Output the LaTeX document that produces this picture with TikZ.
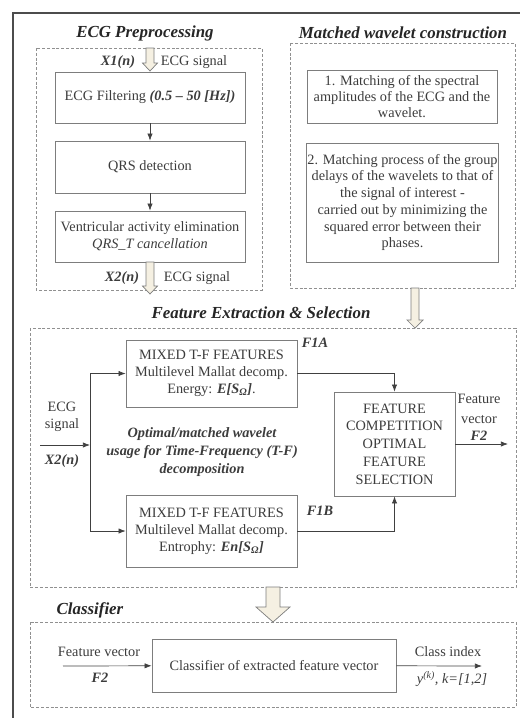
\documentclass[tikz,border=0pt]{standalone}
\usepackage{fontspec}
\setmainfont{Liberation Serif}
\usetikzlibrary{arrows.meta}

\definecolor{txtgray}{RGB}{60,60,60}
\definecolor{linegray}{RGB}{125,125,125}
\definecolor{arrfill}{RGB}{245,240,226}

\tikzset{
	procbox/.style={draw=linegray, line width=0.6pt, align=center, inner sep=1pt, text=txtgray, font=\fontsize{12.2}{14.5}\selectfont},
	grp/.style={draw=linegray!85, dash pattern=on 2.5pt off 1.6pt, line width=0.5pt},
	ttl/.style={font=\fontsize{14.4}{16}\selectfont\bfseries\itshape, text=black!85},
	lbl/.style={text=txtgray, align=center, inner sep=0pt, font=\fontsize{12.2}{16}\selectfont},
	lblbi/.style={lbl, font=\fontsize{12.2}{16}\selectfont\bfseries\itshape},
	conn/.style={draw=black!75, line width=0.6pt, -{Latex[length=6pt,width=4.5pt]}},
	fatarr/.style={draw=linegray, fill=arrfill, line width=0.6pt}
}

% x, top, tip, half shaft, half head, head length
\newcommand{\fatarrow}[6]{%
	\filldraw[fatarr] (#1-#4,#2) -- (#1-#4,#3-#6) -- (#1-#5,#3-#6) -- (#1,#3)
	-- (#1+#5,#3-#6) -- (#1+#4,#3-#6) -- (#1+#4,#2) -- cycle;}

\begin{document}
\begin{tikzpicture}[x=0.03cm, y=-0.03cm]
	\useasboundingbox (0,0) rectangle (519,718);
	\draw[line width=1.4pt, black!70] (13,740) -- (13,13) -- (540,13);
	
	% group frames
	\draw[grp] (36,48) rectangle (262,290);
	\draw[grp] (290,43) rectangle (515,288);
	\draw[grp] (30,328) rectangle (516,587);
	\draw[grp] (30,622) rectangle (516,707);
	
	\node[ttl] (tpre) at (145,33) {ECG Preprocessing};
	\node[ttl] (tmw) at (403,33) {Matched wavelet construction};
	\node[ttl] (tfes) at (261,313) {Feature Extraction \& Selection};
	\node[ttl] (tcls) at (90,610) {Classifier};
	
	% ECG preprocessing
	\fatarrow{150}{48}{71}{4}{7.5}{8}
	\node[lblbi] (xone) at (118,62) {X1(n)};
	\node[lbl] (sone) at (194,62) {ECG signal};
	
	\node[procbox, minimum width=5.7cm, minimum height=1.53cm] (filt) at (150,97.5) {ECG Filtering \textbf{\textit{(0.5 -- 50 [Hz])}}};
	\node[procbox, minimum width=5.7cm, minimum height=1.56cm] (qrs) at (150,167) {QRS detection};
	\node[procbox, minimum width=5.7cm, minimum height=1.53cm] (vae) at (150,236.5) {Ventricular activity elimination\\\textit{QRS\_T cancellation}};
	
	\foreach \a/\b in {filt/qrs, qrs/vae}
	\draw[conn] (\a) -- (\b);
	
	\fatarrow{150}{262}{294}{4}{7.5}{8}
	\node[lblbi] (xtwo) at (122,278) {X2(n)};
	\node[lbl] (stwo) at (197,278) {ECG signal};
	
	% matched wavelet construction
	\node[procbox, minimum width=5.7cm, minimum height=1.59cm, font=\fontsize{12.2}{14}\selectfont] (mone) at (402,96.5) {1. Matching of the spectral\\amplitudes of the ECG and the\\wavelet.};
	\node[procbox, minimum width=5.73cm, minimum height=3.57cm, font=\fontsize{12.2}{14.3}\selectfont] (mtwo) at (402.5,202.5) {2. Matching process of the group\\delays of the wavelets to that of\\the signal of interest -\\carried out by minimizing the\\squared error between their\\phases.};
	
	\fatarrow{415}{288}{328}{4}{8}{8}
	
	% feature extraction & selection
	\node[procbox, minimum width=5.13cm, minimum height=2.01cm] (fa) at (211.5,373.5) {MIXED T-F FEATURES\\Multilevel Mallat decomp.\\Energy: \textbf{\textit{E[S\textsubscript{Ω}]}}.};
	\node[procbox, minimum width=5.13cm, minimum height=2.16cm] (fb) at (211.5,531) {MIXED T-F FEATURES\\Multilevel Mallat decomp.\\Entrophy: \textbf{\textit{En[S\textsubscript{Ω}]}}};
	\node[procbox, minimum width=3.63cm, minimum height=3.12cm, font=\fontsize{12.2}{15.2}\selectfont] (fcos) at (394.5,444) {FEATURE\\COMPETITION\\OPTIMAL\\FEATURE\\SELECTION};
	
	\node[lblbi] (lfa) at (315,343) {F1A};
	\node[lblbi] (lfb) at (320,511) {F1B};
	\node[lblbi, font=\fontsize{12.2}{15.5}\selectfont\bfseries\itshape] (usage) at (202,452) {Optimal/matched wavelet\\usage for Time-Frequency (T-F)\\decomposition};
	
	\node[lbl, font=\fontsize{12.2}{15}\selectfont] (lecg) at (62,417) {ECG\\signal};
	\node[lblbi] (lxtwo) at (62,461) {X2(n)};
	\coordinate (ecgin) at (40,445);
	\coordinate (br) at (90,445);
	\draw[conn] (ecgin) -- (br);
	\draw[conn] (br) |- (fa.west);
	\draw[conn] (br) |- (fb.west);
	
	\draw[conn] (fa.east) -| (fcos.north);
	\draw[conn] (fb.east) -| (fcos.south);
	
	\coordinate (fvout) at (508,444);
	\draw[conn] (fcos.east) -- (fvout);
	\node[lbl, font=\fontsize{12.2}{17}\selectfont] (lfv) at (479,408.5) {Feature\\vector};
	\node[lblbi] (lftwo) at (479,436) {F2};
	
	% classifier
	\fatarrow{273}{587}{622}{7}{17}{15}
	\node[procbox, minimum width=7.32cm, minimum height=1.59cm] (cls) at (274,665.5) {Classifier of extracted feature vector};
	\coordinate (clsin) at (63,666);
	\coordinate (clsout) at (482,666);
	\draw[conn] (clsin) -- (cls);
	\draw[conn] (cls) -- (clsout);
	\node[lbl] (lfvc) at (99,652) {Feature vector};
	\node[lblbi] (lftwoc) at (100,678) {F2};
	\node[lbl] (lci) at (448,652) {Class index};
	\node[lbl] (lyk) at (452,679) {\textit{y\textsuperscript{(k)}, k=[1,2]}};
\end{tikzpicture}
\end{document}
